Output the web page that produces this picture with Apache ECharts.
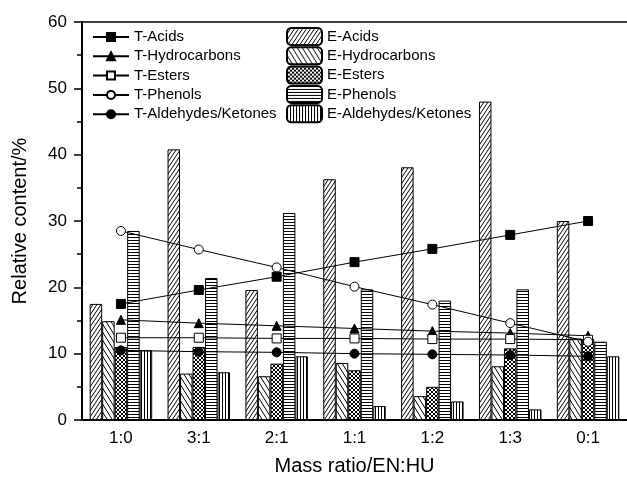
<!DOCTYPE html>
<html>
<head>
<meta charset="utf-8">
<script src="https://cdn.jsdelivr.net/npm/echarts@6/dist/echarts.min.js"></script>
<style>
html, body { margin: 0; padding: 0; background: #fff; }
#chart { width: 627px; height: 481px; }
</style>
</head>
<body>
<div id="chart"></div>
<script>
// mass ratio EN:HU
var ratios = ['1:0', '3:1', '2:1', '1:1', '1:2', '1:3', '0:1'];

// T- series (lines)
var tAcids = [17.5, 19.6, 21.6, 23.8, 25.8, 27.9, 30.0];
var tHydrocarbons = [15.1, 14.6, 14.2, 13.8, 13.4, 13.1, 12.7];
var tEsters = [12.4, 12.4, 12.3, 12.3, 12.2, 12.2, 12.1];
var tPhenols = [28.5, 25.7, 23.0, 20.1, 17.4, 14.6, 11.8];
var tAldKet = [10.5, 10.3, 10.2, 10.0, 9.9, 9.8, 9.6];

// E- series (bars)
var eAcids = [17.5, 40.8, 19.6, 36.3, 38.1, 48.0, 30.0];
var eHydrocarbons = [14.9, 7.0, 6.6, 8.6, 3.6, 8.1, 12.3];
var eEsters = [11.0, 11.0, 8.5, 7.5, 5.0, 10.8, 12.2];
var ePhenols = [28.5, 21.4, 31.2, 19.7, 18.0, 19.7, 11.8];
var eAldKet = [10.5, 7.2, 9.6, 2.1, 2.8, 1.6, 9.6];

var yTicks = [0, 10, 20, 30, 40, 50, 60];

function hatch(w, h, draw) {
    var c = document.createElement('canvas');
    c.width = w;
    c.height = h;
    var g = c.getContext('2d');
    g.fillStyle = '#fff';
    g.fillRect(0, 0, w, h);
    g.strokeStyle = '#000';
    g.fillStyle = '#000';
    g.lineWidth = 1;
    draw(g, w, h);
    return { image: c, repeat: 'repeat' };
}
function slash(g, w, h) {
    g.beginPath();
    for (var k = -1; k <= 1; k++) {
        g.moveTo(k * w, h);
        g.lineTo(k * w + w, 0);
    }
    g.stroke();
}
function backslash(g, w, h) {
    g.beginPath();
    for (var k = -1; k <= 1; k++) {
        g.moveTo(k * w, 0);
        g.lineTo(k * w + w, h);
    }
    g.stroke();
}

var pAcids = hatch(4, 6, slash);
var pHydro = hatch(5, 8, backslash);
var pEsters = hatch(4, 4, function (g, w, h) { slash(g, w, h); backslash(g, w, h); });
var pPhenols = hatch(4, 3, function (g, w, h) { g.fillRect(0, 0, w, 1); });
var pAldKet = hatch(3, 4, function (g, w, h) { g.fillRect(0, 0, 1, h); });

var font = 'Liberation Sans, Arial, sans-serif';

function lineSeries(name, data, symbol, fill) {
    return {
        name: name,
        type: 'line',
        data: data,
        symbol: symbol,
        symbolSize: 9,
        showAllSymbol: true,
        z: 5,
        lineStyle: { color: '#000', width: 1 },
        itemStyle: { color: fill, borderColor: '#000', borderWidth: 1 }
    };
}
function barSeries(name, data, pattern) {
    return {
        name: name,
        type: 'bar',
        data: data,
        barWidth: 12.5,
        barGap: '0%',
        itemStyle: { color: pattern, borderColor: '#000', borderWidth: 1 }
    };
}

var myChart = echarts.init(document.getElementById('chart'));
var option = {
    animation: false,
    backgroundColor: '#fff',
    textStyle: { fontFamily: font, color: '#000' },
    grid: { left: 82, top: 22, width: 548, bottom: 59 },
    legend: [{
        data: ['T-Acids', 'T-Hydrocarbons', 'T-Esters', 'T-Phenols', 'T-Aldehydes/Ketones'],
        orient: 'vertical',
        left: 87,
        top: 24.5,
        itemWidth: 36,
        itemHeight: 10,
        itemGap: 4.3,
        itemTextGap: 4,
        textStyle: { fontSize: 15, lineHeight: 15, color: '#000', fontFamily: font }
    }, {
        data: ['E-Acids', 'E-Hydrocarbons', 'E-Esters', 'E-Phenols', 'E-Aldehydes/Ketones'],
        orient: 'vertical',
        left: 281,
        top: 22,
        itemWidth: 35,
        itemHeight: 17,
        itemGap: 0.3,
        itemTextGap: 4,
        textStyle: { fontSize: 15, lineHeight: 15, color: '#000', fontFamily: font }
    }],
    xAxis: [{
        type: 'category',
        data: ratios,
        name: 'Mass ratio/EN:HU',
        nameLocation: 'middle',
        nameGap: 36,
        nameTextStyle: { fontSize: 20, color: '#000', fontFamily: font },
        axisLine: { lineStyle: { color: '#000', width: 2 } },
        axisTick: { alignWithLabel: true, length: 6, lineStyle: { color: '#000', width: 1.5 } },
        axisLabel: { fontSize: 17, color: '#000', margin: 10, fontFamily: font }
    }, {
        type: 'category',
        data: ratios,
        position: 'top',
        axisLine: { lineStyle: { color: '#000', width: 1.5 } },
        axisTick: { show: false },
        axisLabel: { show: false }
    }],
    yAxis: {
        type: 'value',
        min: yTicks[0],
        max: yTicks[yTicks.length - 1],
        interval: 10,
        name: 'Relative content/%',
        nameLocation: 'middle',
        nameGap: 52,
        nameTextStyle: { fontSize: 20, color: '#000', fontFamily: font },
        splitLine: { show: false },
        axisLine: { show: true, lineStyle: { color: '#000', width: 2 } },
        axisTick: { show: true, length: 8, lineStyle: { color: '#000', width: 1.5 } },
        minorTick: { show: true, splitNumber: 2, length: 5, lineStyle: { color: '#000', width: 1.5 } },
        axisLabel: { fontSize: 17, color: '#000', margin: 15, fontFamily: font }
    },
    series: [
        barSeries('E-Acids', eAcids, pAcids),
        barSeries('E-Hydrocarbons', eHydrocarbons, pHydro),
        barSeries('E-Esters', eEsters, pEsters),
        barSeries('E-Phenols', ePhenols, pPhenols),
        barSeries('E-Aldehydes/Ketones', eAldKet, pAldKet),
        lineSeries('T-Acids', tAcids, 'rect', '#000'),
        lineSeries('T-Hydrocarbons', tHydrocarbons, 'triangle', '#000'),
        lineSeries('T-Esters', tEsters, 'rect', '#fff'),
        lineSeries('T-Phenols', tPhenols, 'circle', '#fff'),
        lineSeries('T-Aldehydes/Ketones', tAldKet, 'circle', '#000')
    ]
};
myChart.setOption(option);
</script>
</body>
</html>
